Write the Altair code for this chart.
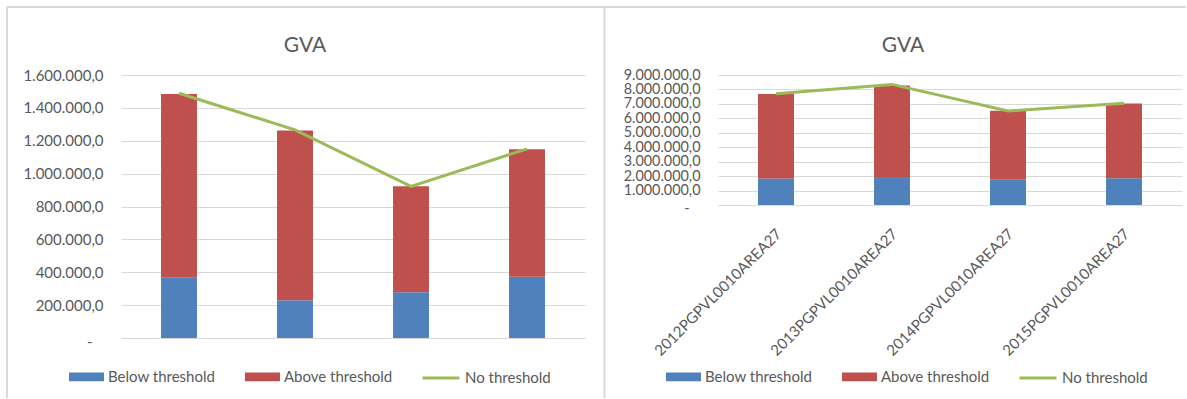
import altair as alt
import pandas as pd

# Series shared by both panels
series_names = ["Below threshold", "Above threshold", "No threshold"]
series_colors = ["#4F81BD", "#C0504D", "#9BBB59"]

# Left panel
left_categories = ["2012", "2013", "2014", "2015"]
left_below = [367000, 229000, 278000, 373000]
left_above = [1118000, 1033000, 645000, 775000]
left_none = [1489000, 1266000, 922000, 1151000]
left_ticks = [0, 200000, 400000, 600000, 800000, 1000000, 1200000, 1400000, 1600000]

# Right panel
right_categories = [
    "2012PGPVL0010AREA27",
    "2013PGPVL0010AREA27",
    "2014PGPVL0010AREA27",
    "2015PGPVL0010AREA27",
]
right_below = [1840000, 1930000, 1750000, 1860000]
right_above = [5850000, 6350000, 4780000, 5160000]
right_none = [7710000, 8350000, 6510000, 7040000]
right_ticks = [0, 1000000, 2000000, 3000000, 4000000, 5000000,
               6000000, 7000000, 8000000, 9000000]

FONT = "Lato"
TEXT = "#595959"
GRID = "#D9D9D9"


def panel(categories, below, above, none, ticks, height, title_x,
          frame_left, frame_right, show_x_labels, y_font):
    n = len(categories)
    bars_df = pd.DataFrame({
        "cat": categories + categories,
        "series": [series_names[0]] * n + [series_names[1]] * n,
        "value": below + above,
        "stack": [0] * n + [1] * n,
    })
    line_df = pd.DataFrame({
        "cat": categories,
        "series": [series_names[2]] * n,
        "value": none,
    })

    if show_x_labels:
        x_axis = alt.Axis(title=None, labelAngle=-45, labelAlign="right",
                          labelBaseline="middle", labelFont=FONT,
                          labelFontSize=15, labelColor=TEXT, labelPadding=26,
                          labelOffset=3, domain=False, ticks=False, grid=False)
    else:
        x_axis = None

    x = alt.X("cat:N", sort=categories, axis=x_axis,
              scale=alt.Scale(paddingInner=0.69, paddingOuter=0.345))
    # zero is shown as an indented dash, as in accounting number formats
    y_axis = alt.Axis(
        title=None, values=ticks, tickCount=len(ticks), format=",.1f",
        labelExpr="datum.value == 0 ? '-' : datum.label",
        labelPadding={"condition": {"test": "datum.value == 0", "value": 29},
                      "value": 18},
        labelOffset={"condition": {"test": "datum.value == 0", "value": 3},
                     "value": 0},
        grid=True, gridColor=GRID, gridWidth=1, domain=False, ticks=False,
        labelFont=FONT, labelFontSize=y_font, labelColor=TEXT,
        labelOverlap=False,
    )
    y_scale = alt.Scale(domain=[0, ticks[-1]], nice=False, zero=True)
    y = alt.Y("value:Q", stack="zero", scale=y_scale, axis=y_axis)

    legend_y = 284
    bars = alt.Chart(bars_df).mark_bar().encode(
        x=x,
        y=y,
        color=alt.Color(
            "series:N",
            scale=alt.Scale(domain=series_names[:2], range=series_colors[:2]),
            legend=alt.Legend(
                title=None, orient="none", legendX=-52, legendY=legend_y,
                direction="horizontal", symbolType="M-1,-0.25H1V0.25H-1Z",
                symbolSize=1225, symbolStrokeWidth=0, labelFont=FONT,
                labelFontSize=15, labelColor=TEXT, columnPadding=29,
                labelOffset=4, padding=0,
            ),
        ),
        order=alt.Order("stack:Q"),
    )

    line = alt.Chart(line_df).mark_line(strokeWidth=3).encode(
        x=x,
        y=alt.Y("value:Q", stack=None, scale=y_scale, axis=y_axis),
        stroke=alt.Stroke(
            "series:N",
            scale=alt.Scale(domain=[series_names[2]], range=[series_colors[2]]),
            legend=alt.Legend(
                title=None, orient="none", legendX=300, legendY=legend_y - 1,
                symbolType="stroke", symbolSize=1369, symbolStrokeWidth=3,
                labelFont=FONT, labelFontSize=15, labelColor=TEXT,
                labelOffset=4, padding=0,
            ),
        ),
    )

    one = pd.DataFrame({"t": ["GVA"]})
    title = alt.Chart(one).mark_text(
        font=FONT, fontSize=21, color=TEXT, align="center",
        baseline="alphabetic",
    ).encode(text="t:N", x=alt.value(title_x), y=alt.value(-23))

    frame_v = alt.Chart(one).mark_rule(color=GRID, strokeWidth=2).encode(
        x=alt.value(frame_left), y=alt.value(-68), y2=alt.value(323))
    frame_h = alt.Chart(one).mark_rule(color=GRID, strokeWidth=2).encode(
        x=alt.value(frame_left), x2=alt.value(frame_right), y=alt.value(-68))

    return alt.layer(frame_v, frame_h, bars, line, title).properties(
        width=464, height=height)


left = panel(left_categories, left_below, left_above, left_none, left_ticks,
             263, 184, -114, 483.5, False, 15)
right = panel(right_categories, right_below, right_above, right_none,
              right_ticks, 130, 185, -113.5, 468, True, 14.4)

chart = alt.hconcat(left, right, spacing=133, bounds="flush").resolve_scale(
    color="independent", stroke="independent", x="independent",
    y="independent",
).resolve_legend(color="independent", stroke="independent").properties(
    padding={"left": 6, "top": 6, "right": 0, "bottom": 0},
).configure(
    locale={"number": {"decimal": ",", "thousands": ".", "grouping": [3],
                       "currency": ["", "\u20ac"]}},
).configure_view(stroke=None)

chart.save("out.html", embed_options={"renderer": "svg", "actions": False})
